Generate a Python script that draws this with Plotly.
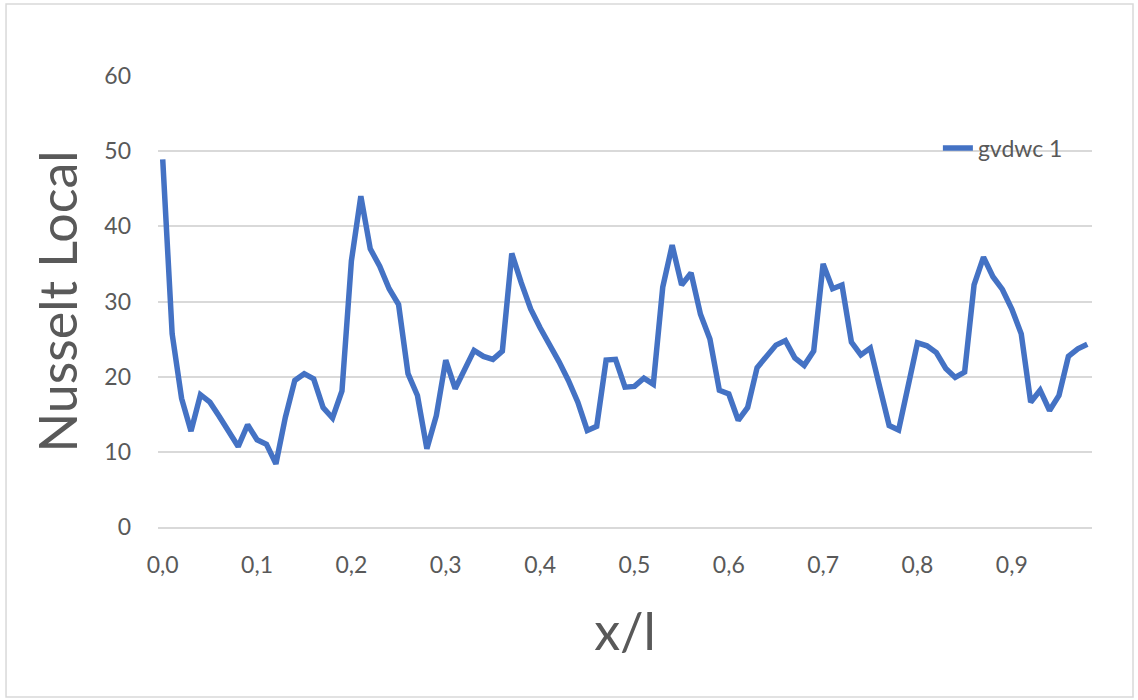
import plotly.graph_objects as go

# Local Nusselt number along the plate (x/l)
x_over_l = [
    0.00, 0.01, 0.02, 0.03, 0.04, 0.05, 0.06, 0.07, 0.08, 0.09,
    0.10, 0.11, 0.12, 0.13, 0.14, 0.15, 0.16, 0.17, 0.18, 0.19,
    0.20, 0.21, 0.22, 0.23, 0.24, 0.25, 0.26, 0.27, 0.28, 0.29,
    0.30, 0.31, 0.32, 0.33, 0.34, 0.35, 0.36, 0.37, 0.38, 0.39,
    0.40, 0.41, 0.42, 0.43, 0.44, 0.45, 0.46, 0.47, 0.48, 0.49,
    0.50, 0.51, 0.52, 0.53, 0.54, 0.55, 0.56, 0.57, 0.58, 0.59,
    0.60, 0.61, 0.62, 0.63, 0.64, 0.65, 0.66, 0.67, 0.68, 0.69,
    0.70, 0.71, 0.72, 0.73, 0.74, 0.75, 0.76, 0.77, 0.78, 0.79,
    0.80, 0.81, 0.82, 0.83, 0.84, 0.85, 0.86, 0.87, 0.88, 0.89,
    0.90, 0.91, 0.92, 0.93, 0.94, 0.95, 0.96, 0.97, 0.98,
]

nusselt_local = [
    48.9, 25.7, 17.1, 12.75, 17.6, 16.6, 14.7, 12.6, 10.7, 13.6,
    11.6, 11.0, 8.4, 14.6, 19.5, 20.4, 19.7, 15.9, 14.5, 18.1,
    35.4, 44.0, 37.0, 34.7, 31.7, 29.6, 20.4, 17.5, 10.4, 14.8,
    22.2, 18.4, 20.8, 23.5, 22.7, 22.3, 23.4, 36.4, 32.5, 29.0,
    26.5, 24.3, 22.0, 19.5, 16.6, 12.85, 13.4, 22.2, 22.3, 18.6,
    18.7, 19.8, 19.0, 31.9, 37.5, 32.2, 33.8, 28.3, 25.0, 18.2,
    17.7, 14.2, 15.9, 21.2, 22.6, 24.2, 24.8, 22.5, 21.5, 23.4,
    35.0, 31.7, 32.2, 24.6, 22.9, 23.8, 18.6, 13.5, 12.9, 19.0,
    24.5, 24.1, 23.2, 21.1, 19.9, 20.6, 32.2, 35.9, 33.3, 31.6,
    29.0, 25.7, 16.6, 18.2, 15.5, 17.5, 22.7, 23.7, 24.3,
]

series_name = "gvdwc 1"
x_title = "x/l"
y_title = "Nusselt Local"

LINE_COLOR = "#4472C4"
TEXT_COLOR = "#595959"
GRID_COLOR = "#D9D9D9"
FONT = "Lato, 'Open Sans', sans-serif"

fig = go.Figure()
fig.add_trace(go.Scatter(
    x=x_over_l,
    y=nusselt_local,
    mode="lines",
    name=series_name,
    line=dict(color=LINE_COLOR, width=5.5),
    showlegend=True,
))

fig.update_layout(
    width=1138,
    height=700,
    autosize=False,
    paper_bgcolor="white",
    plot_bgcolor="white",
    separators=",.",
    margin=dict(l=158, r=46, t=76, b=173),
    font=dict(family=FONT, color=TEXT_COLOR, size=23),
    legend=dict(
        x=0.835, y=0.84, xanchor="left", yanchor="middle",
        bgcolor="rgba(0,0,0,0)",
        font=dict(size=23, color=TEXT_COLOR),
        itemwidth=30,
    ),
    xaxis=dict(
        range=[-0.005, 0.985],
        tick0=0,
        dtick=0.1,
        tickformat=".1f",
        showgrid=False,
        zeroline=False,
        showline=True,
        linecolor=GRID_COLOR,
        linewidth=1.5,
        ticks="",
        ticklabelstandoff=17,
        tickfont=dict(size=23, color=TEXT_COLOR),
        title=dict(text=x_title, font=dict(size=52, color=TEXT_COLOR), standoff=36),
    ),
    yaxis=dict(
        range=[0, 60],
        dtick=10,
        showgrid=True,
        gridcolor=GRID_COLOR,
        gridwidth=1.5,
        zeroline=False,
        showline=False,
        ticks="",
        ticklabelstandoff=26,
        tickfont=dict(size=23, color=TEXT_COLOR),
        title=dict(text=y_title, font=dict(size=52, color=TEXT_COLOR), standoff=10),
    ),
    shapes=[
        # chart-area border
        dict(type="rect", xref="paper", yref="paper",
             x0=-0.1627, x1=1.0439, y0=-0.377, y1=1.1597,
             line=dict(color=GRID_COLOR, width=1.5), fillcolor="rgba(0,0,0,0)",
             layer="below"),
    ],
)

fig.write_html("out.html")
